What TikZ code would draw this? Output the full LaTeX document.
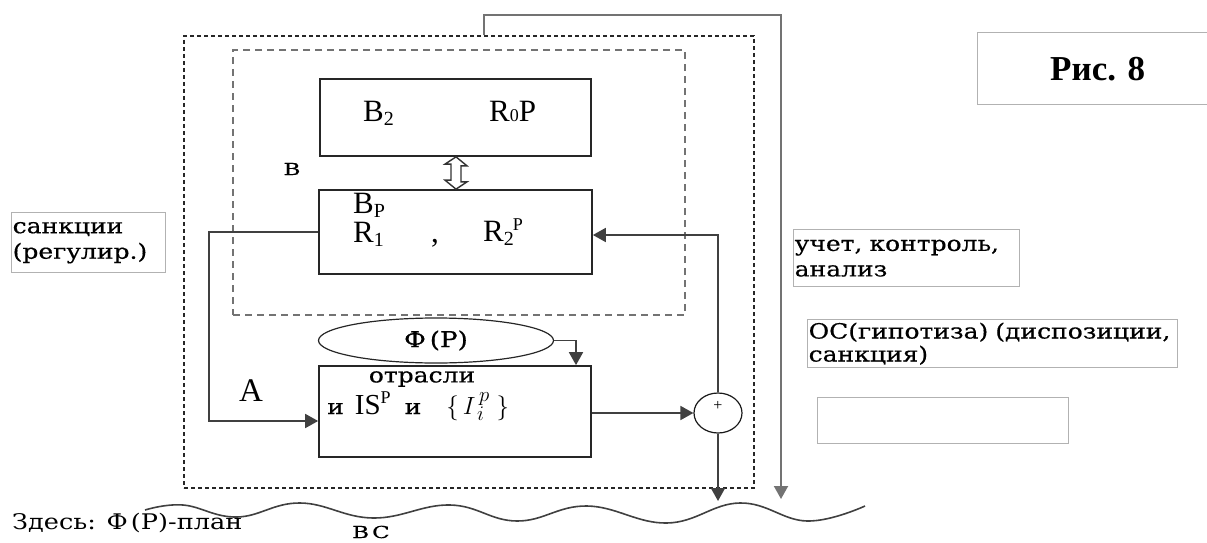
\documentclass[tikz,border=0pt]{standalone}
\usepackage{fontspec}
\setmainfont{Liberation Serif}
\newfontfamily\cyr[FakeStretch=1.19]{DejaVu Serif}
\newfontfamily\cyrb[FakeStretch=1.19,FakeBold=0.5]{DejaVu Serif}
\newfontfamily\cyrwide[FakeStretch=1.4,FakeBold=0.5]{DejaVu Serif}
\usetikzlibrary{arrows.meta,shapes.geometric,calc}
\newcommand\mysub[1]{\raisebox{-4pt}{\fontsize{20}{20}\selectfont #1}}
\newcommand\mysup[1]{\raisebox{11pt}{\fontsize{18}{18}\selectfont #1}}
\tikzset{
  blk/.style={draw=black!85, line width=1.7pt, rectangle, inner sep=0pt},
  conn/.style={draw=black!75, line width=1.8pt},
  arr/.style={-{Triangle[width=14pt,length=13pt]}},
  fb/.style={draw=black!55, line width=2pt},
  outerd/.style={draw=black!85, line width=1.2pt, dash pattern=on 4pt off 3pt, rectangle, inner sep=0pt},
  innerd/.style={draw=black!55, line width=2.2pt, dash pattern=on 7pt off 5pt, rectangle, inner sep=0pt},
  lbox/.style={draw=black!30, line width=1.4pt, rectangle, inner sep=1pt, anchor=north west},
  cyrtext/.style={font=\cyrb\fontsize{21}{25.5}\selectfont, inner sep=0pt},
  latin/.style={font=\fontsize{31}{33}\selectfont, inner sep=0pt},
  dblarr/.style={draw=black!80, line width=1.4pt, fill=white, line join=miter},
}
\begin{document}
\begin{tikzpicture}[x=1pt,y=-1pt]
\useasboundingbox (0,0) rectangle (1207,543);
\clip (0,0) rectangle (1207,543);
% containers
\node[outerd, minimum width=570, minimum height=452] (outer) at (469,262) {};
\node[innerd, minimum width=452, minimum height=265] (inner) at (459,182.5) {};
% blocks
\node[blk, minimum width=271, minimum height=77] (top) at (455.5,117.5) {};
\node[blk, minimum width=273, minimum height=84] (mid) at (455.5,232) {};
\node[blk, minimum width=272, minimum height=91] (bot) at (455,411.5) {};
\node[draw=black!85, line width=1.2pt, ellipse, minimum width=235, minimum height=45, inner sep=0pt,
      font=\cyrb\fontsize{22}{22}\selectfont] (phi) at (436,340.5) {Ф\kern4pt(Р)};
\node[draw=black!90, line width=1.2pt, ellipse, minimum width=48, minimum height=40, inner sep=0pt] (sum) at (718,413) {};
\node[inner sep=0pt, font=\fontsize{16}{16}\selectfont] (plus) at (718,406) {+};
% block texts
\node[latin, anchor=base west] (b2) at (363,121) {B\mysub{2}};
\node[latin, anchor=base west] (r0p) at (489,121) {R\raisebox{-1pt}{\fontsize{18}{18}\selectfont 0}P};
\node[latin, anchor=base west] (bp) at (353,213) {B\mysub{P}};
\node[latin, anchor=base west] (r1) at (353,242) {R\mysub{1}};
\node[latin, anchor=base west] (comma) at (431,242) {,};
\node[latin, anchor=base west] (r2p) at (483,241) {R\mysub{2}\kern-1pt\mysup{P}};
\node[cyrtext] (otr) at (422,379) {отрасли};
\node[latin, font=\fontsize{29}{30}\selectfont, anchor=base west] (isp) at (327,414) {{\cyrb\fontsize{21}{21}\selectfont и}\hspace{11pt}IS\mysup{P}\hspace{14pt}{\cyrb\fontsize{21}{21}\selectfont и}\hspace{25pt}$\{\,I^{\,p}_{\,i}\;\}$};
% labels
\node[inner sep=0pt, font=\cyrwide\fontsize{16.5}{16.5}\selectfont] (lv) at (292,169) {В};
\node[inner sep=0pt, font=\fontsize{33}{33}\selectfont] (la) at (251,391) {А};
% side boxes
\node[lbox, minimum width=240, minimum height=72, font=\bfseries\fontsize{35}{36}\selectfont] (fig) at (977,32) {Рис. 8};
\node[lbox, minimum height=60, text width=152, align=left, font=\cyrb\fontsize{21}{25.5}\selectfont] (sank) at (11,212) {санкции\\(регулир.)};
\node[lbox, minimum height=57, text width=224, align=left, font=\cyrb\fontsize{21}{25.5}\selectfont] (uchet) at (793,229) {учет, контроль,\\анализ};
\node[lbox, minimum height=48, text width=368, align=left, font=\cyrb\fontsize{21}{23}\selectfont] (os) at (807,319) {ОС(гипотиза) (диспозиции,\\санкция)};
\node[lbox, minimum width=251, minimum height=46] (empty) at (817,397) {};
% bottom texts
\node[inner sep=0pt, font=\cyr\fontsize{21.5}{22}\selectfont, anchor=west] (note) at (12,523) {Здесь: Ф\kern3pt(Р)-план};
\node[font=\cyrwide\fontsize{16.5}{16.5}\selectfont, inner sep=0pt] (vs) at (371,532) {В\kern3pt С};
% wave
\draw[draw=black!75, line width=1.6pt] plot[smooth, tension=0.7] coordinates {(145,510) (183,505) (237,517) (300,503) (373,518) (450,505) (517,521) (587,506) (667,523) (740,503) (807,521) (865,506)};
% coordinates
\coordinate (tl) at (484,15);
\coordinate (tr) at (781,15);
\coordinate (w2) at (781,499);
\coordinate (w1) at (718,501);
\coordinate (lx) at (209,421);
\coordinate (fy) at (0,235);
\coordinate (px) at (576,0);
\coordinate (dx) at (456,0);
% connectors
\draw[fb, arr] (outer.north -| tl) -- (tl) -- (tr) -- (w2);
\draw[dblarr] (top.south -| dx) -- ++(11,9) -- ++(-6,0) -- ++(0,16) -- ++(6,0) -- (mid.north -| dx) -- ++(-11,-9) -- ++(6,0) -- ++(0,-16) -- ++(-6,0) -- cycle;
\draw[conn, arr] (mid.west) -| (lx) -- (lx -| bot.west);
\draw[conn, arr] (bot.east |- sum.west) -- (sum.west);
\draw[conn, arr] (sum.north) |- (mid.east |- fy);
\draw[conn, arr] (sum.south) -- (w1);
\draw[conn, arr] (phi.east) -| (px |- bot.north);
\end{tikzpicture}
\end{document}
